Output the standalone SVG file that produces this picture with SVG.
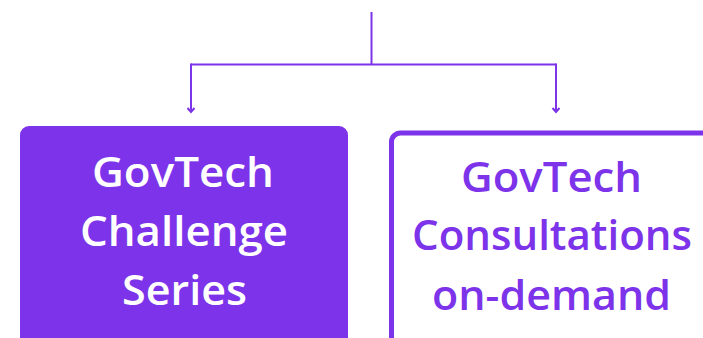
<svg xmlns="http://www.w3.org/2000/svg" width="703" height="338" viewBox="0 0 703 338">
<defs>
<style>
.conn{fill:none;stroke:#7C33E9;stroke-width:2}
.lbl{font-family:"Open Sans",Lato,sans-serif;font-weight:600;font-size:41px;text-anchor:middle;font-variant-ligatures:none}
</style>
</defs>
<rect width="703" height="338" fill="#fff"/>
<g id="connectors">
<line class="conn" x1="371.5" y1="12" x2="371.5" y2="64.5"/>
<polyline class="conn" points="191,64.5 556,64.5"/>
<path class="conn" d="M191,63.5 V112 M187.5,108 L191,112 L194.5,108"/>
<path class="conn" d="M556,63.5 V112 M552.5,108 L556,112 L559.5,108"/>
</g>
<g id="node-challenge">
<rect x="20" y="126" width="328" height="230" rx="9" fill="#7C33E9"/>
<text class="lbl" fill="#fff"><tspan x="183" y="187" textLength="182" lengthAdjust="spacingAndGlyphs">GovTech</tspan><tspan x="184" y="246" textLength="208" lengthAdjust="spacingAndGlyphs">Challenge</tspan><tspan x="184.5" y="305" textLength="125" lengthAdjust="spacingAndGlyphs">Series</tspan></text>
</g>
<g id="node-consult">
<rect x="391.5" y="133" width="328" height="230" rx="9" fill="#fff" stroke="#7C33E9" stroke-width="5"/>
<text class="lbl" fill="#7C33E9"><tspan x="551.5" y="192" textLength="181" lengthAdjust="spacingAndGlyphs">GovTech</tspan><tspan x="552" y="250" textLength="280" lengthAdjust="spacingAndGlyphs">Consultations</tspan><tspan x="551.5" y="310" textLength="239" lengthAdjust="spacingAndGlyphs">on-demand</tspan></text>
</g>
</svg>
